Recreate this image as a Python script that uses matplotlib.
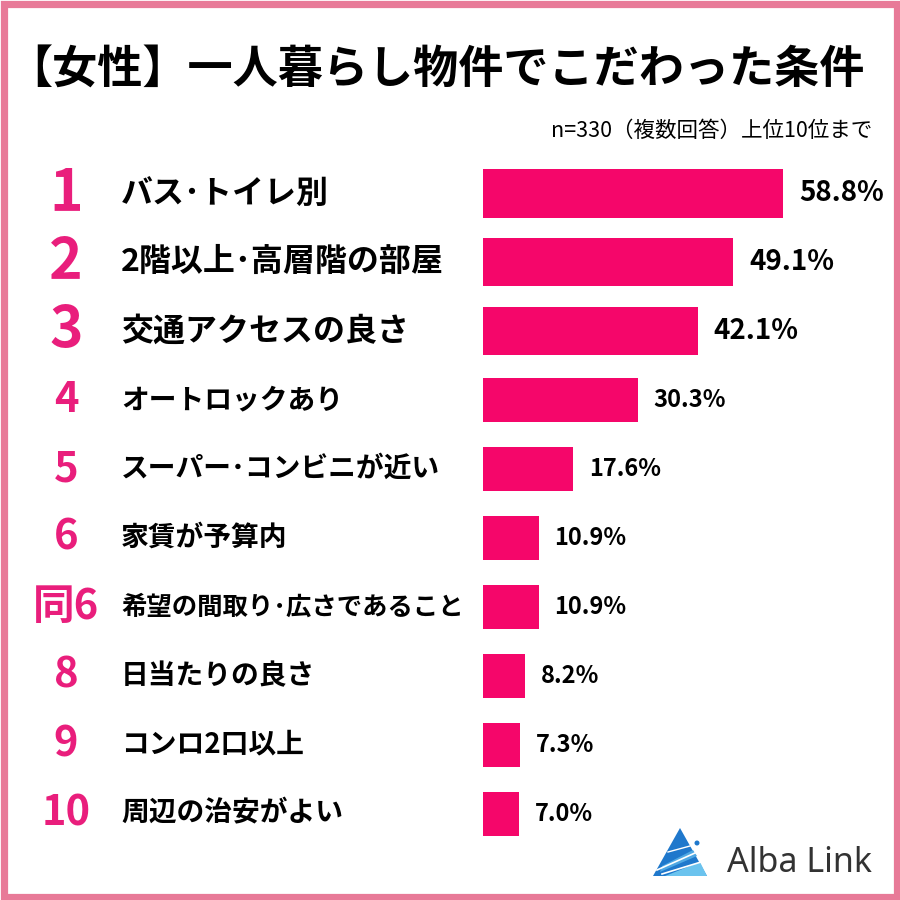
import matplotlib
matplotlib.use("Agg")
import matplotlib.pyplot as plt
import matplotlib.transforms as mtransforms
from matplotlib.patches import Rectangle, Polygon, Circle

plt.rcParams['font.family'] = ['Noto Sans CJK JP', 'DejaVu Sans']

# ---- data ----
ranks = ["1", "2", "3", "4", "5", "6", "同6", "8", "9", "10"]
labels = ["バス･トイレ別", "2階以上･高層階の部屋", "交通アクセスの良さ", "オートロックあり",
          "スーパー･コンビニが近い", "家賃が予算内", "希望の間取り･広さであること",
          "日当たりの良さ", "コンロ2口以上", "周辺の治安がよい"]
values = [58.8, 49.1, 42.1, 30.3, 17.6, 10.9, 10.9, 8.2, 7.3, 7.0]
title = "【女性】一人暮らし物件でこだわった条件"
subtitle = "n=330（複数回答）上位10位まで"
brand = "Alba Link"

BAR = "#F5066A"
RANK = "#E91E7C"
BORDER = "#E87A98"

W = H = 900
fig = plt.figure(figsize=(9, 9), dpi=100)
fig.patch.set_facecolor("white")

# bar axes (pixel layout)
x0, x1 = 483, 883
top, bottom = 159, 848
ax = fig.add_axes([x0 / W, 1 - bottom / H, (x1 - x0) / W, (bottom - top) / H])
ax.set_xlim(0, (x1 - x0) / 5.1)
n = len(values)
ax.set_ylim(n - 0.5, -0.5)
ax.axis("off")

ypos = list(range(n))
heights = [0.70 if i < 3 else 0.64 for i in range(n)]
ax.barh(ypos, values, height=heights, color=BAR, edgecolor="none")

renderer = fig.canvas.get_renderer()
label_left = 121
label_maxw = 343  # keep labels clear of the bars

trans = mtransforms.blended_transform_factory(fig.transFigure, ax.transData)
for i in range(n):
    big = i < 3
    ax.annotate(f"{values[i]:.1f}%", xy=(values[i], i), xytext=(11.5, 0),
                textcoords="offset points", ha="left", va="center",
                fontsize=20 if big else 17, fontweight="bold", color="black")
    ax.text(66 / W, i, ranks[i], transform=trans, ha="center", va="center",
            fontsize=41 if big else 30, fontweight="bold", color=RANK)
    fs = 23 if big else 20
    t = ax.text(label_left / W, i, labels[i], transform=trans, ha="left", va="center",
                fontsize=fs, fontweight="bold", color="black")
    w = t.get_window_extent(renderer).width
    if w > label_maxw:
        t.set_fontsize(fs * label_maxw / w)

# title / subtitle
fig.text(436 / W, 1 - 70 / H, title, ha="center", va="center",
         fontsize=32.5, fontweight="bold", color="black")
fig.text(872 / W, 1 - 131 / H, subtitle, ha="right", va="center",
         fontsize=15.5, color="black")

# overlay in pixel coordinates for frame & logo
ov = fig.add_axes([0, 0, 1, 1], zorder=5)
ov.set_xlim(0, W)
ov.set_ylim(H, 0)
ov.axis("off")
ov.patch.set_alpha(0)
ov.add_patch(Rectangle((3.5, 3.5), W - 7, H - 7, fill=False, edgecolor=BORDER, linewidth=5.2))

# logo triangle
ov.add_patch(Polygon([(680, 828), (653, 876), (707, 876)], closed=True, facecolor="#1F78CC", edgecolor="none"))
ov.add_patch(Polygon([(665, 876), (707, 876), (700, 862)], closed=True, facecolor="#6BC3EE", edgecolor="none"))
ov.add_patch(Polygon([(660, 872), (697, 856), (693, 850), (662, 866)], closed=True, facecolor="#4FA8E3", edgecolor="none"))
ov.plot([657, 695], [870, 853], color="white", lw=1.2)
ov.plot([662, 701], [874, 862], color="white", lw=1.2)
ov.plot([668, 690], [852, 846], color="white", lw=1.0)
ov.add_patch(Circle((697, 843), 2.5, facecolor="#1F78CC", edgecolor="none"))
ov.text(727, 863, brand, ha="left", va="center", fontsize=24.5, color="#333333",
        family=["Noto Sans", "DejaVu Sans"])

fig.savefig("out.png", dpi=100, facecolor="white")
